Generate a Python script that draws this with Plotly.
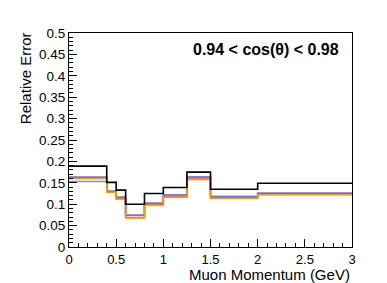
import plotly.graph_objects as go

edges = [0, 0.4, 0.5, 0.6, 0.8, 1.0, 1.25, 1.5, 2.0, 3.0]
black = [0.189, 0.151, 0.133, 0.100, 0.125, 0.139, 0.175, 0.135, 0.149]
blue = [0.153, 0.130, 0.116, 0.074, 0.102, 0.1215, 0.1636, 0.118, 0.1255]
purple = [0.1636, 0.130, 0.116, 0.074, 0.102, 0.1215, 0.1636, 0.118, 0.1255]
red = [0.162, 0.129, 0.113, 0.069, 0.099, 0.117, 0.159, 0.115, 0.123]
orange = [0.160, 0.128, 0.112, 0.068, 0.098, 0.116, 0.158, 0.114, 0.122]

xtick_vals = [0, 0.5, 1, 1.5, 2, 2.5, 3]
xtick_text = ["0", "0.5", "1", "1.5", "2", "2.5", "3"]
ytick_vals = [0, 0.05, 0.1, 0.15, 0.2, 0.25, 0.3, 0.35, 0.4, 0.45, 0.5]
ytick_text = ["0", "0.05", "0.1", "0.15", "0.2", "0.25", "0.3", "0.35", "0.4", "0.45", "0.5"]

series = [
    ("blue", blue, "#6f8fe8", 1.5),
    ("purple", purple, "#7b68ee", 1.5),
    ("red", red, "#ff4500", 1.5),
    ("orange", orange, "#ff9900", 1.5),
    ("black", black, "black", 1.6),
]

fig = go.Figure()
for name, vals, col, w in series:
    fig.add_trace(go.Scatter(x=edges, y=vals + [vals[-1]], mode="lines",
                             line=dict(shape="hv", color=col, width=w),
                             name=name, showlegend=False))

font = "Liberation Sans, Arial, Helvetica, sans-serif"
fig.update_layout(
    width=387, height=283,
    margin=dict(l=61, r=43, t=25, b=44),
    paper_bgcolor="white", plot_bgcolor="white",
    font=dict(family=font, size=13, color="black"),
    xaxis=dict(range=[0, 3], showgrid=False, zeroline=False,
               showline=True, linecolor="black", linewidth=1, mirror=True,
               ticks="inside", ticklen=8, tickwidth=1, tickcolor="black",
               tickmode="array", tickvals=xtick_vals, ticktext=xtick_text, tickangle=0,
               minor=dict(ticks="inside", ticklen=4, tickmode="linear", tick0=0, dtick=0.1,
                          tickcolor="black"),
               tickfont=dict(size=13)),
    yaxis=dict(range=[0, 0.5], showgrid=False, zeroline=False,
               showline=True, linecolor="black", linewidth=1, mirror=True,
               ticks="inside", ticklen=8, tickwidth=1, tickcolor="black",
               tickmode="array", tickvals=ytick_vals, ticktext=ytick_text,
               minor=dict(ticks="inside", ticklen=4, tickmode="linear", tick0=0, dtick=0.01,
                          tickcolor="black"),
               tickfont=dict(size=13.5)),
    annotations=[
        dict(text="Muon Momentum (GeV)", xref="paper", yref="paper", x=1.0, y=-0.128,
             xanchor="right", yanchor="middle", showarrow=False, font=dict(size=15)),
        dict(text="Relative Error", xref="paper", yref="paper", x=-0.155, y=1.014,
             xanchor="center", yanchor="top", textangle=-90, showarrow=False,
             font=dict(size=15)),
        dict(text="<b>0.94 &lt; cos(θ) &lt; 0.98</b>", xref="paper", yref="paper",
             x=0.961, y=0.925, xanchor="right", yanchor="middle", showarrow=False,
             font=dict(size=16)),
    ],
)
fig.write_html("out.html")
